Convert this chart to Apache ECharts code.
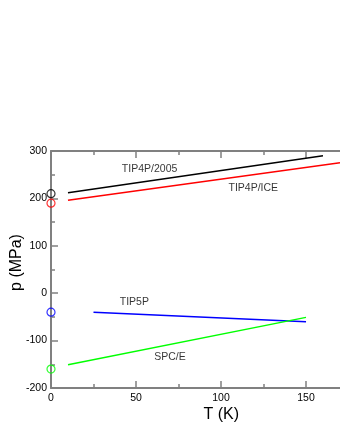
<!DOCTYPE html>
<html>
<head>
<meta charset="utf-8">
<script src="https://cdn.jsdelivr.net/npm/echarts@6/dist/echarts.min.js"></script>
<style>
  html, body { margin: 0; padding: 0; background: #fff; }
  #chart { width: 340px; height: 440px; }
</style>
</head>
<body>
<div id="chart"></div>
<script>
// temperatures (K) and pressures (MPa)
const tip4p2005T = [10, 160]
const tip4p2005P = [212, 290]
const tip4pIceT = [10, 170]
const tip4pIceP = [196, 275]
const tip5pT = [25, 150]
const tip5pP = [-40, -60]
const spceT = [10, 150]
const spceP = [-151, -51]

// open circles at T = 0
const zeroModels = ['TIP4P/2005', 'TIP4P/ICE', 'TIP5P', 'SPC/E']
const zeroP = [210, 190, -40, -160]
const zeroColors = ['#000000', '#ff0000', '#0000ff', '#00ff00']

// in-plot model names
const labelNames = ['TIP4P/2005', 'TIP4P/ICE', 'TIP5P', 'SPC/E']
const labelT = [58, 119, 49, 70]
const labelP = [262, 222, -18, -134]

const xTicks = [0, 50, 100, 150]
const yTicks = [-200, -100, 0, 100, 200, 300]

const zip = (a, b) => a.map((v, i) => [v, b[i]])

const chart = echarts.init(document.getElementById('chart'))

const axisGray = '#808080'
const font = 'Liberation Sans, Arial, sans-serif'

const xBase = {
  min: 0,
  max: 175,
  interval: 50,
  axisLine: { onZero: false, lineStyle: { color: axisGray, width: 2 } },
  axisTick: { inside: true, length: 7, lineStyle: { color: axisGray, width: 1.5 } },
  minorTick: { show: true, splitNumber: 2, length: 4, lineStyle: { color: axisGray, width: 1.5 } },
  splitLine: { show: false }
}

const lineSeries = (name, t, p, color) => ({
  name: name,
  type: 'line',
  data: zip(t, p),
  showSymbol: false,
  lineStyle: { color: color, width: 1.5 },
  itemStyle: { color: color },
  z: 3
})

chart.setOption({
  animation: false,
  grid: { left: 51, top: 151, right: -8.5, bottom: 52, outerBoundsMode: 'none', containLabel: false },
  xAxis: [
    Object.assign({}, xBase, {
      type: 'value',
      position: 'bottom',
      name: 'T (K)',
      nameLocation: 'middle',
      nameGap: 19,
      nameMoveOverlap: false,
      nameTextStyle: { fontFamily: font, fontSize: 16, color: '#000', padding: [0, 0, 0, 43] },
      axisLabel: {
        margin: 5, fontFamily: font, fontSize: 10.5, color: '#000',
        formatter: v => (xTicks.includes(v) ? String(v) : '')
      }
    }),
    Object.assign({}, xBase, {
      type: 'value',
      position: 'top',
      axisLabel: { show: false }
    })
  ],
  yAxis: {
    type: 'value',
    min: -200,
    max: 300,
    interval: 100,
    name: 'p (MPa)',
    nameLocation: 'middle',
    nameGap: 26,
    nameMoveOverlap: false,
    nameTextStyle: { fontFamily: font, fontSize: 16, color: '#000', padding: [0, 0, 0, 14] },
    axisLine: { onZero: false, lineStyle: { color: axisGray, width: 2 } },
    axisTick: { inside: true, length: 7, lineStyle: { color: axisGray, width: 1.5 } },
    minorTick: { show: true, splitNumber: 2, length: 4, lineStyle: { color: axisGray, width: 1.5 } },
    splitLine: { show: false },
    axisLabel: {
      margin: 4, fontFamily: font, fontSize: 10.5, color: '#000',
      formatter: v => (yTicks.includes(v) ? String(v) : '')
    }
  },
  series: [
    lineSeries('TIP4P/2005', tip4p2005T, tip4p2005P, '#000000'),
    lineSeries('TIP4P/ICE', tip4pIceT, tip4pIceP, '#ff0000'),
    lineSeries('TIP5P', tip5pT, tip5pP, '#0000ff'),
    lineSeries('SPC/E', spceT, spceP, '#00ff00'),
    {
      type: 'scatter',
      symbol: 'circle',
      symbolSize: 8,
      clip: false,
      z: 4,
      data: zeroModels.map((m, i) => ({
        name: m,
        value: [0, zeroP[i]],
        itemStyle: { color: 'rgba(0,0,0,0)', borderColor: zeroColors[i], borderWidth: 1.2 }
      }))
    },
    {
      type: 'scatter',
      symbolSize: 0,
      silent: true,
      z: 5,
      data: labelNames.map((n, i) => ({ name: n, value: [labelT[i], labelP[i]] })),
      label: {
        show: true,
        position: 'inside',
        formatter: p => p.name,
        fontFamily: font,
        fontSize: 10.5,
        color: '#000'
      }
    }
  ]
})
</script>
</body>
</html>
